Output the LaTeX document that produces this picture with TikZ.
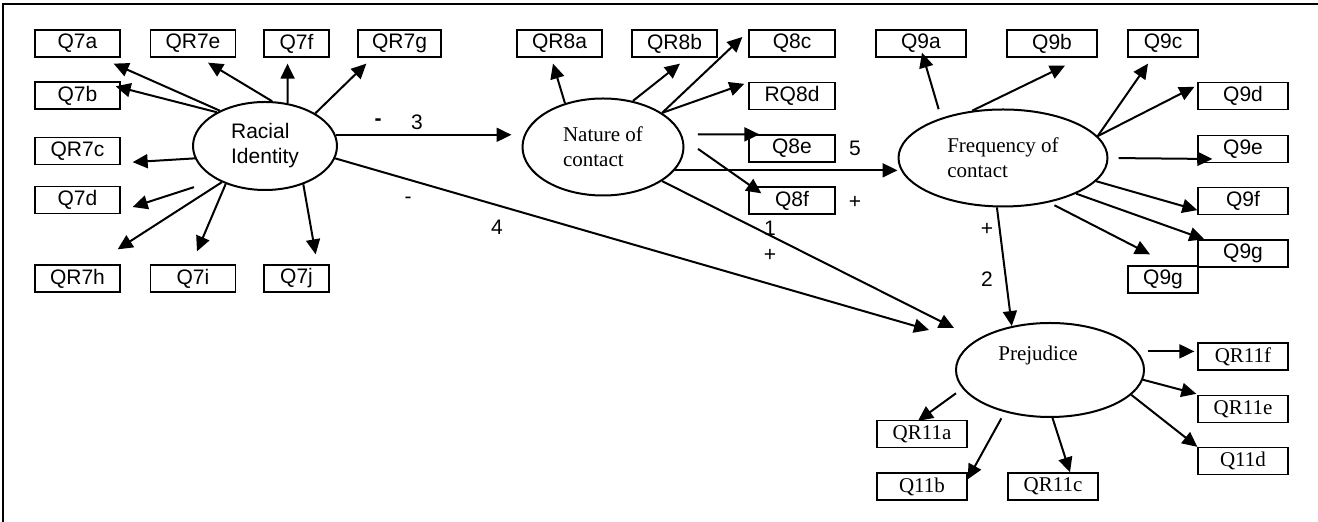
\documentclass[tikz,border=0pt]{standalone}
\usepackage{fontspec}
\setmainfont{Liberation Sans}
\newfontfamily\timesfont{Liberation Serif}
\usepackage{tikz}
\usetikzlibrary{arrows.meta,shapes.geometric}
\newcommand{\sz}{\fontsize{10.5pt}{12.5pt}\selectfont}

\begin{document}
\begin{tikzpicture}[
  x=0.5pt, y=-0.5pt,
  box/.style={rectangle, draw, line width=0.65pt, minimum width=42.5pt, minimum height=13.5pt, inner sep=0pt, font=\sz},
  tbox/.style={box, minimum width=45pt, font=\timesfont\sz},
  oval/.style={ellipse, draw, line width=1pt, inner sep=0pt, align=left, font=\sz},
  toval/.style={oval, font=\timesfont\sz},
  arrow/.style={-{Triangle[length=7.5pt,width=7pt]}, line width=1pt},
  lbl/.style={inner sep=0pt, font=\sz},
  outline/.style={line width=1pt}
]
\useasboundingbox (0,0) rectangle (1318,522);
\draw[outline] (1318,4) -- (3,4) -- (3,522);

\node[oval, minimum width=72pt, minimum height=44pt] (race) at (265,146) {Racial\\Identity};
\node[toval, minimum width=80.5pt, minimum height=48.5pt] (nature) at (603,147) {Nature of\\contact};
\node[toval, minimum width=104.5pt, minimum height=48.5pt] (freq) at (1003,158) {Frequency of\\contact};
\node[toval, minimum width=94pt, minimum height=47pt, label={[font=\timesfont\sz, xshift=-6pt, yshift=7.5pt]center:Prejudice}] (prej) at (1050,370) {};

\node[box] (q7a) at (77.5,43.5) {Q7a};
\node[box] (qr7e) at (193,43.5) {QR7e};
\node[box, minimum width=32.5pt] (q7f) at (296.5,43.5) {Q7f};
\node[box, minimum width=41.5pt] (qr7g) at (399.5,43.5) {QR7g};
\node[box] (q7b) at (77.5,95.5) {Q7b};
\node[box] (qr7c) at (77.5,151) {QR7c};
\node[box] (q7d) at (77.5,200) {Q7d};
\node[box] (qr7h) at (77.5,278.5) {QR7h};
\node[box] (q7i) at (193,278.5) {Q7i};
\node[box, minimum width=32.5pt] (q7j) at (296.5,278.5) {Q7j};

\node[box] (qr8a) at (559.5,43.5) {QR8a};
\node[box] (qr8b) at (674.5,43.5) {QR8b};
\node[box, minimum width=43pt] (q8c) at (792,43.5) {Q8c};
\node[box, minimum width=43pt] (rq8d) at (792,96) {RQ8d};
\node[box, minimum width=43pt] (q8e) at (792,148.5) {Q8e};
\node[box, minimum width=43pt] (q8f) at (792,200.5) {Q8f};

\node[box, minimum width=45pt] (q9a) at (921,43.5) {Q9a};
\node[box, minimum width=45pt] (q9b) at (1052,43.5) {Q9b};
\node[box, minimum width=35pt] (q9c) at (1163,43.5) {Q9c};
\node[box, minimum width=45pt] (q9d) at (1243,96) {Q9d};
\node[box, minimum width=45pt] (q9e) at (1243,149) {Q9e};
\node[box, minimum width=45pt] (q9f) at (1243,201) {Q9f};
\node[box, minimum width=45pt] (q9g) at (1243,253.5) {Q9g};
\node[box, minimum width=35pt] (q9gb) at (1163,279.5) {Q9g};

\node[tbox] (qr11f) at (1243,356.5) {QR11f};
\node[tbox] (qr11e) at (1243,409) {QR11e};
\node[tbox] (q11d) at (1243,461) {Q11d};
\node[tbox] (qr11a) at (922,434) {QR11a};
\node[tbox] (q11b) at (922,486.5) {Q11b};
\node[tbox] (qr11c) at (1053,486.5) {QR11c};

\node[lbl] (m3) at (378,122) {\textbf{-}};
\node[lbl] (n3) at (417,122) {3};
\node[lbl] (m4) at (408,200) {-};
\node[lbl] (n4) at (497,227) {4};
\node[lbl] (n1) at (770,228) {1};
\node[lbl] (p1) at (770,255) {+};
\node[lbl] (n5) at (855,148) {5};
\node[lbl] (p5) at (855,202) {+};
\node[lbl] (p2) at (987,229) {+};
\node[lbl] (n2) at (987,279) {2};

\draw[arrow] (race.142) -- ([shift={(-7,6)}]q7a.south east);
\draw[arrow] (race.145) -- ([shift={(-5,5)}]q7b.north east);
\draw[arrow] (race.81) -- ([shift={(15,5)}]qr7e.south);
\draw[arrow] (race.62) -- ([shift={(-9,6)}]q7f.south);
\draw[arrow] (race.33) -- ([shift={(9,6)}]qr7g.south west);
\draw[arrow] (race.190) -- ([shift={(12,-3)}]qr7c.south east);
\draw[arrow, shorten <=12pt] (race.215) -- ([shift={(12,7)}]q7d.east);
\draw[arrow] (race.220) -- ([shift={(-3,-15)}]qr7h.north east);
\draw[arrow] (race.224) -- ([shift={(4,-13)}]q7i.north);
\draw[arrow] (race.315) -- ([shift={(-14,-10)}]q7j.north east);

\draw[arrow, shorten >=5pt] (race.9) -- (race.9 -| nature.west);
\draw[arrow] (race.350) -- ([shift={(-26,-40)}]prej.west);
\draw[arrow] (nature.330) -- ([shift={(-1,-42)}]prej.west);
\draw[arrow] (nature.342) -- (nature.342 -| freq.west);
\draw[arrow] (freq.263) -- (prej.131);

\draw[arrow] (nature.131) -- ([shift={(-6.5,6)}]qr8a.south);
\draw[arrow] (nature.57) -- ([shift={(5.5,6)}]qr8b.south);
\draw[arrow] (nature.30) -- ([shift={(-6,-6.5)}]q8c.west);
\draw[arrow] (nature.30) -- ([shift={(-4,2)}]rq8d.north west);
\draw[arrow, shorten <=8pt] (nature.9) -- ([shift={(11,0)}]q8e.north west);
\draw[arrow, shorten <=9pt] (nature.6) -- ([shift={(13,7)}]q8f.north west);

\draw[arrow, shorten <=4.5pt] (freq.147) -- ([shift={(1,-5)}]q9a.south);
\draw[arrow] (freq.123) -- ([shift={(13,8)}]q9b.south);
\draw[arrow] (freq.13) -- ([shift={(-15,6)}]q9c.south);
\draw[arrow] (freq.13) -- ([shift={(-3,5)}]q9d.north west);
\draw[arrow, shorten <=5pt] (freq.east) -- ([shift={(15,10)}]q9e.west);
\draw[arrow] (freq.346) -- ([shift={(0,-5)}]q9f.south west);
\draw[arrow] (freq.334) -- ([shift={(7,0)}]q9g.north west);
\draw[arrow, shorten <=3pt] (freq.316) -- ([shift={(-13,-11)}]q9gb.north);

\draw[arrow, shorten <=5pt, shorten >=1.5pt] (prej.12) -- (prej.12 -| qr11f.west);
\draw[arrow] (prej.354) -- ([shift={(-1,-1)}]qr11e.north west);
\draw[arrow] (prej.343) -- (q11d.north west);
\draw[arrow, shorten <=4pt] (prej.192) -- ([shift={(-4,1)}]qr11a.north);
\draw[arrow, shorten <=3.5pt] (prej.223) -- ([shift={(0,7)}]q11b.north east);
\draw[arrow] (prej.273) -- ([shift={(17,0)}]qr11c.north);
\end{tikzpicture}
\end{document}
